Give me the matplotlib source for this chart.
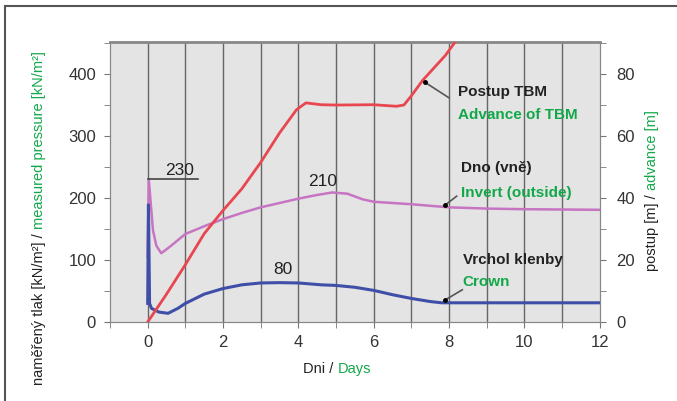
import matplotlib.pyplot as plt
from matplotlib.lines import Line2D

# values
adv_days = [0, 0.5, 1, 1.5, 2, 2.5, 3, 3.5, 3.95, 4.2, 4.6, 5, 6, 6.6, 6.8, 7.0, 7.3, 7.6, 7.9, 8.2]
adv_m = [0, 9, 18.5, 28.5, 36, 43, 51.5, 61, 68.5, 70.7, 70.1, 70, 70.1, 69.6, 70, 73, 78, 82, 86, 91]

inv_days = [0, 0.03, 0.14, 0.23, 0.36, 0.6, 1.0, 1.56, 2, 2.5, 3, 3.5, 4, 4.5, 4.9, 5.3, 5.7, 6, 7, 8, 9, 10, 11, 12]
inv_kpa = [105, 229, 148, 123, 111, 122, 142, 156, 166, 176, 185, 192, 199, 205, 209, 207, 198, 194, 190, 185, 183, 182, 181.5, 181]

crown_days = [0, 0.02, 0.05, 0.1, 0.3, 0.54, 0.8, 1, 1.5, 2, 2.5, 3, 3.5, 4, 4.6, 5, 5.5, 6, 6.5, 7, 7.5, 7.8, 8, 12]
crown_kpa = [30, 189, 30, 22, 16, 14, 22, 30, 45, 54, 60, 63, 63.5, 63, 60, 59, 56, 51, 44, 38, 33, 31, 31, 31]

xticks = [0, 2, 4, 6, 8, 10, 12]
left_ticks = [0, 100, 200, 300, 400]
right_ticks = [0, 20, 40, 60, 80]

green = '#12a84a'
dark = '#222222'
plt.rcParams['font.family'] = ['Liberation Sans', 'DejaVu Sans']

fig = plt.figure(figsize=(6.77, 4.01), dpi=100)
ax = fig.add_axes([0.1625, 0.197, 0.7235, 0.698])
ax2 = ax.twinx()

ax.set_facecolor('#e4e4e4')
ax.set_xlim(-1, 12)
ax.set_ylim(0, 451.6)
ax2.set_ylim(0, 90.3)

for d in range(0, 12):
    ax.axvline(d, color='#666666', lw=1, zorder=1)

ax.plot(inv_days, inv_kpa, color='#c774c2', lw=1.8, zorder=3)
ax.plot(crown_days, crown_kpa, color='#3f4fa8', lw=2.2, zorder=3)
ax2.plot(adv_days, adv_m, color='#e8474f', lw=2, zorder=3)

ax.set_xticks(xticks)
ax.set_xticks(range(-1, 13), minor=True)
ax.set_yticks(left_ticks)
ax.set_yticks([50, 150, 250, 350, 450], minor=True)
ax2.set_yticks(right_ticks)
ax2.set_yticks([10, 30, 50, 70, 90], minor=True)

for a in (ax, ax2):
    a.tick_params(which='both', length=4, color='#777777', labelsize=12, labelcolor='#333333')
    for s in a.spines.values():
        s.set_color('#888888')
ax.tick_params(axis='y', pad=6)
ax2.tick_params(axis='y', pad=8)
ax.tick_params(axis='x', pad=5)
ax.spines['top'].set_linewidth(2)

# annotations
ax.plot([0, 1.33], [230.6, 230.6], color='#444444', lw=1.2, zorder=4)
ax.text(0.85, 245, '230', ha='center', va='center', fontsize=12.5, color=dark)
ax.text(4.65, 226, '210', ha='center', va='center', fontsize=12.5, color=dark)
ax.text(3.58, 84, '80', ha='center', va='center', fontsize=12.5, color=dark)

lab = dict(fontsize=11, fontweight='bold', ha='left', va='center')
ax.text(8.23, 371, 'Postup TBM', color=dark, **lab)
ax.text(8.23, 334, 'Advance of TBM', color=green, **lab)
ax.text(8.31, 248, 'Dno (vně)', color=dark, **lab)
ax.text(8.31, 208, 'Invert (outside)', color=green, **lab)
ax.text(8.36, 100, 'Vrchol klenby', color=dark, **lab)
ax.text(8.36, 64.5, 'Crown', color=green, **lab)

# leader lines
ax2.plot([7.35, 8.0], [77.4, 72.3], color='#555555', lw=1.2, zorder=4)
ax2.plot([7.35], [77.4], 'o', color='black', ms=2.5, zorder=5)
ax.plot([7.88, 8.2], [188, 203], color='#555555', lw=1.2, zorder=4)
ax.plot([7.88], [188], 'o', color='black', ms=2.5, zorder=5)
ax.plot([7.88, 8.35], [35, 52], color='#555555', lw=1.2, zorder=4)
ax.plot([7.88], [35], 'o', color='black', ms=2.5, zorder=5)

# two-colour axis labels
renderer = fig.canvas.get_renderer()
inv = fig.transFigure.inverted()


def vlabel(x, y, parts):
    for s, c in parts:
        t = fig.text(x, y, s, color=c, rotation=90, rotation_mode='anchor',
                     ha='left', va='baseline', fontsize=10.5)
        bb = t.get_window_extent(renderer)
        y = inv.transform((0, bb.y1))[1]


def hlabel(x, y, parts):
    for s, c in parts:
        t = fig.text(x, y, s, color=c, ha='left', va='baseline', fontsize=10.5)
        bb = t.get_window_extent(renderer)
        x = inv.transform((bb.x1, 0))[0]


vlabel(0.0635, 0.04, [('naměřený tlak [kN/m²] / ', dark), ('measured pressure [kN/m²]', green)])
vlabel(0.969, 0.325, [('postup [m] / ', dark), ('advance [m]', green)])
hlabel(0.4476, 0.07, [('Dni / ', dark), ('Days', green)])

# outer frame
fig.add_artist(Line2D([0.0074, 1.0], [0.985, 0.985], transform=fig.transFigure, color='#555555', lw=1.5))
fig.add_artist(Line2D([0.0074, 0.0074], [0.0, 0.985], transform=fig.transFigure, color='#555555', lw=1.5))

fig.savefig('out.png', dpi=100)
